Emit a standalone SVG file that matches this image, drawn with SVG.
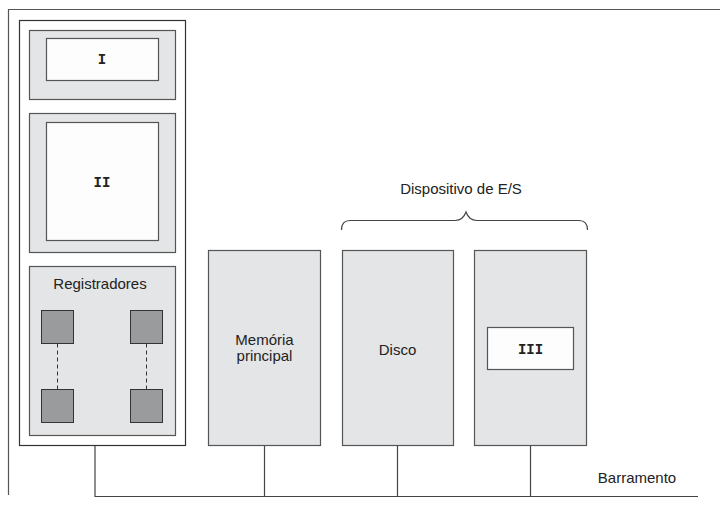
<svg xmlns="http://www.w3.org/2000/svg" width="720" height="508" viewBox="0 0 720 508">
<style>
.frame{fill:none;stroke:#555;stroke-width:1.2}
.box{fill:#fff;stroke:#333;stroke-width:1.2}
.g{fill:#e4e5e6;stroke:#555;stroke-width:1.2}
.w{fill:#fdfdfd;stroke:#555;stroke-width:1.2}
.sq{fill:#9a9b9c;stroke:#333;stroke-width:1}
.ln{fill:none;stroke:#444;stroke-width:1.2}
.dash{fill:none;stroke:#333;stroke-width:1;stroke-dasharray:4,3}
.t{font-family:"Liberation Sans",Arial,sans-serif;font-size:15px;fill:#222;text-anchor:middle}
.m{font-family:"Liberation Mono","Courier New",monospace;font-size:14px;font-weight:bold;fill:#222;text-anchor:middle}
</style>
<rect width="720" height="508" fill="#fff"/>
<path class="frame" d="M8.5,495 V9.5 H720"/>
<g id="connectors">
<path class="ln" d="M95,445 V496.5 H698"/>
<path class="ln" d="M264.5,445 V496"/>
<path class="ln" d="M397.5,445 V496"/>
<path class="ln" d="M530.5,445 V496"/>
</g>
<g id="cpu">
<rect class="box" x="19.5" y="20.5" width="166" height="425"/>
</g>
<g id="I">
<rect class="g" x="29.5" y="30.5" width="146" height="69"/>
<rect class="w" x="46.5" y="38.5" width="112" height="42"/>
<text class="m" x="102" y="64">I</text>
</g>
<g id="II">
<rect class="g" x="29.5" y="113.5" width="146" height="139"/>
<rect class="w" x="46.5" y="122.5" width="112" height="118"/>
<text class="m" x="102" y="187">II</text>
</g>
<g id="registradores">
<rect class="g" x="29.5" y="266.5" width="146" height="169"/>
<text class="t" x="100" y="289">Registradores</text>
<rect class="sq" x="41.5" y="310.5" width="32" height="33"/>
<rect class="sq" x="130.5" y="310.5" width="32" height="33"/>
<rect class="sq" x="41.5" y="389.5" width="32" height="33"/>
<rect class="sq" x="130.5" y="389.5" width="32" height="33"/>
<path class="dash" d="M57.5,343.5 V389.5 M146.5,343.5 V389.5"/>
</g>
<g id="memoria">
<rect class="g" x="208.5" y="250.5" width="112" height="195"/>
<text class="t" x="264.5" y="345">Memória</text>
<text class="t" x="264.5" y="361">principal</text>
</g>
<g id="disco">
<rect class="g" x="342.5" y="250.5" width="111" height="195"/>
<text class="t" x="397.5" y="355">Disco</text>
</g>
<g id="III">
<rect class="g" x="474.5" y="250.5" width="112" height="195"/>
<rect class="w" x="487.5" y="327.5" width="86" height="42"/>
<text class="m" x="530.5" y="354">III</text>
</g>
<g id="es">
<path class="ln" d="M341.5,230 Q341.5,220.5 350,220.5 H455 Q463,220.5 466,212 Q469,220.5 477,220.5 H579 Q587.5,220.5 587.5,230"/>
<text class="t" x="461" y="194">Dispositivo de E/S</text>
</g>
<g id="barramento">
<text class="t" x="637" y="483">Barramento</text>
</g>
</svg>
